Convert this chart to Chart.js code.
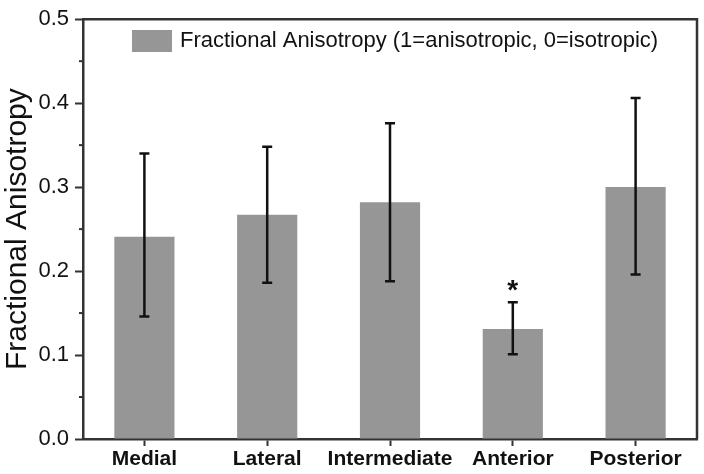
<!DOCTYPE html>
<html>
<head>
<meta charset="utf-8">
<script src="https://cdn.jsdelivr.net/npm/chart.js@4.4.1/dist/chart.umd.min.js"></script>
<style>
  html, body { margin: 0; padding: 0; background: #fff; }
  #wrap { width: 704px; height: 474px; position: relative; }
</style>
</head>
<body>
<div id="wrap"><canvas id="faChart"></canvas></div>
<script>
        // Data
        const regions = ['Medial', 'Lateral', 'Intermediate', 'Anterior', 'Posterior'];
        const faMean = [0.241, 0.267, 0.282, 0.131, 0.300];
        const faLow = [0.146, 0.186, 0.188, 0.101, 0.196];
        const faHigh = [0.340, 0.348, 0.376, 0.163, 0.406];
        const significant = ['', '', '', '*', ''];
        const seriesLabel = 'Fractional Anisotropy (1=anisotropic, 0=isotropic)';

        const axisColor = '#333333';
        const barColor = '#969696';

        // Error bars, asterisks, box frame, minor ticks and legend
        const extrasPlugin = {
            id: 'extras',
            afterDatasetsDraw(chart) {
                const ctx = chart.ctx;
                const x = chart.scales.x;
                const y = chart.scales.y;
                const area = chart.chartArea;
                ctx.save();
                ctx.strokeStyle = '#111';
                ctx.lineWidth = 2.5;
                regions.forEach((r, i) => {
                    const cx = x.getPixelForValue(i);
                    const yt = y.getPixelForValue(faHigh[i]);
                    const yb = y.getPixelForValue(faLow[i]);
                    ctx.beginPath();
                    ctx.moveTo(cx, yt); ctx.lineTo(cx, yb);
                    ctx.moveTo(cx - 5, yt); ctx.lineTo(cx + 5, yt);
                    ctx.moveTo(cx - 5, yb); ctx.lineTo(cx + 5, yb);
                    ctx.stroke();
                    if (significant[i]) {
                        ctx.fillStyle = '#111';
                        ctx.font = 'bold 28px "Liberation Sans", Arial, sans-serif';
                        ctx.textAlign = 'center';
                        ctx.textBaseline = 'middle';
                        ctx.fillText(significant[i], cx, yt - 11);
                    }
                });

                // frame top and right
                ctx.strokeStyle = axisColor;
                ctx.lineWidth = 2.5;
                ctx.beginPath();
                ctx.moveTo(area.left, area.top);
                ctx.lineTo(area.right, area.top);
                ctx.lineTo(area.right, area.bottom);
                ctx.stroke();

                // minor ticks on y
                ctx.lineWidth = 2;
                for (let v = 0.05; v < 0.5; v += 0.1) {
                    const py = y.getPixelForValue(v);
                    ctx.beginPath();
                    ctx.moveTo(area.left - 4, py);
                    ctx.lineTo(area.left, py);
                    ctx.stroke();
                }

                // legend
                ctx.fillStyle = barColor;
                ctx.fillRect(132, 30, 40, 22);
                ctx.fillStyle = '#111';
                ctx.font = '22px "Liberation Sans", Arial, sans-serif';
                ctx.textAlign = 'left';
                ctx.textBaseline = 'middle';
                ctx.fillText(seriesLabel, 180, 41);
                ctx.restore();
            }
        };

        const ctx = document.getElementById('faChart').getContext('2d');
        new Chart(ctx, {
            type: 'bar',
            data: {
                labels: regions,
                datasets: [{
                    label: seriesLabel,
                    data: faMean,
                    backgroundColor: barColor,
                    borderWidth: 0,
                    categoryPercentage: 1,
                    barPercentage: 0.49
                }]
            },
            options: {
                responsive: true,
                maintainAspectRatio: false,
                animation: false,
                layout: { padding: { top: 15, right: 7, left: 0, bottom: 0 } },
                plugins: {
                    legend: { display: false },
                    tooltip: { enabled: false }
                },
                scales: {
                    y: {
                        min: 0,
                        max: 0.5,
                        afterFit: s => { s.width = 83; },
                        border: { display: true, color: axisColor, width: 2.5 },
                        grid: {
                            drawOnChartArea: false,
                            drawTicks: true,
                            tickLength: 8,
                            tickColor: axisColor,
                            tickWidth: 2
                        },
                        ticks: {
                            stepSize: 0.1,
                            padding: 6,
                            color: '#111',
                            font: { family: '"Liberation Sans", Arial', size: 22 },
                            callback: v => v.toFixed(1)
                        },
                        title: {
                            display: true,
                            text: 'Fractional Anisotropy',
                            color: '#111',
                            padding: 0,
                            font: { family: '"Liberation Sans", Arial', size: 30 }
                        }
                    },
                    x: {
                        afterFit: s => { s.height = 35; },
                        border: { display: true, color: axisColor, width: 2.5 },
                        grid: {
                            offset: false,
                            drawOnChartArea: false,
                            drawTicks: true,
                            tickLength: 7,
                            tickColor: axisColor,
                            tickWidth: 2
                        },
                        ticks: {
                            padding: 1,
                            color: '#111',
                            maxRotation: 0,
                            autoSkip: false,
                            font: { family: '"Liberation Sans", Arial', size: 21, weight: 'bold' }
                        }
                    }
                }
            },
            plugins: [extrasPlugin]
        });
</script>
</body>
</html>
